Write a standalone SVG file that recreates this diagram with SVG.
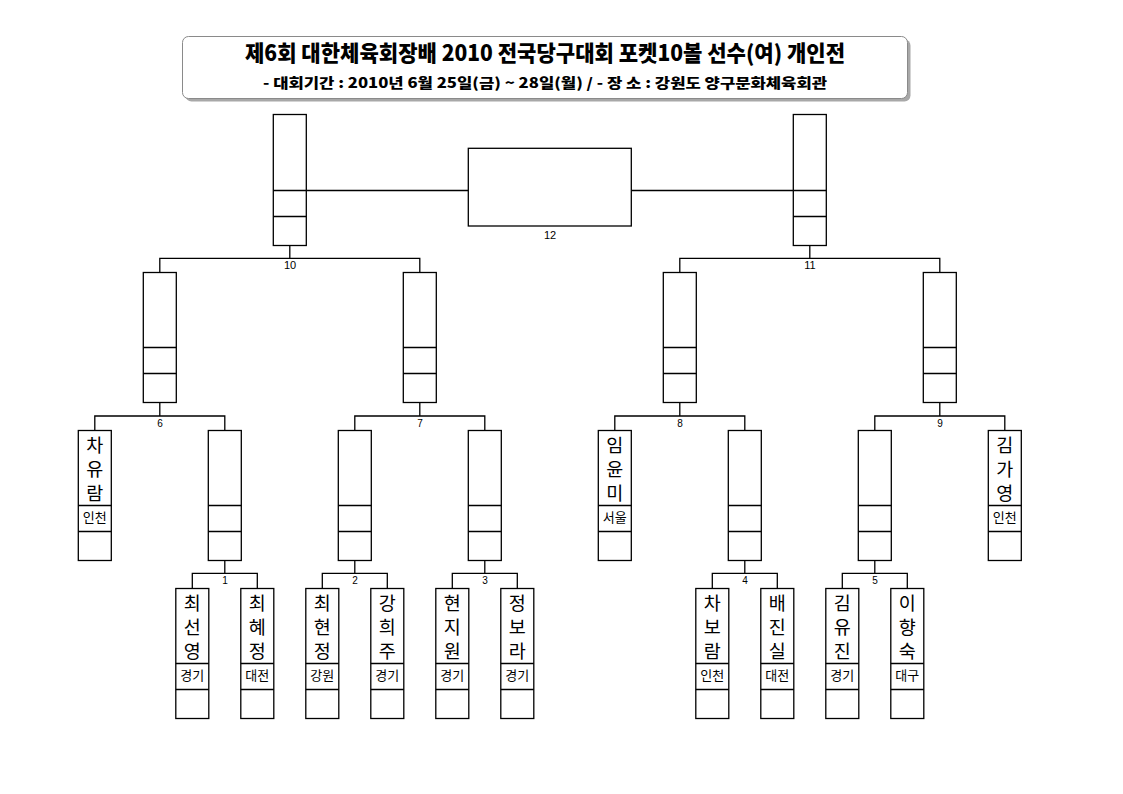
<svg xmlns="http://www.w3.org/2000/svg" xmlns:xlink="http://www.w3.org/1999/xlink" width="1123" height="794" viewBox="0 0 1123 794">
<style>
.bx{fill:#fff;stroke:#000;stroke-width:1.3}
.ln{fill:none;stroke:#000;stroke-width:1.3}
.nm{font-family:"Noto Sans CJK KR","Noto Sans",sans-serif;font-size:18.5px;text-anchor:middle;fill:#000}
.rg{font-family:"Noto Sans CJK KR","Noto Sans",sans-serif;font-size:13px;text-anchor:middle;fill:#000}
.num{font-family:"Liberation Sans",Arial,sans-serif;font-size:10px;text-anchor:middle;fill:#000}
.num2{font-family:"Liberation Sans",Arial,sans-serif;font-size:11px;text-anchor:middle;fill:#000}
.ttl{font-family:"Noto Sans CJK KR",sans-serif;font-weight:900;text-anchor:middle;fill:#000}
</style>
<defs>
<g id="slot">
<rect class="bx" x="0" y="0" width="33" height="130"/>
<line class="ln" x1="0" y1="75" x2="33" y2="75"/>
<line class="ln" x1="0" y1="101" x2="33" y2="101"/>
</g>
</defs>
<rect width="1123" height="794" fill="#fff"/>

<g id="title">
<rect x="185.5" y="39.5" width="725" height="62" rx="6" fill="#a8a8a8"/>
<rect x="182.5" y="36.5" width="725" height="62" rx="6" fill="#fff" stroke="#8a8a8a" stroke-width="1"/>
<text class="ttl" x="545" y="61" font-size="22" textLength="600" lengthAdjust="spacingAndGlyphs">제6회 대한체육회장배 2010 전국당구대회 포켓10볼 선수(여) 개인전</text>
<text class="ttl" x="545" y="88" font-size="14" textLength="564" lengthAdjust="spacingAndGlyphs">- 대회기간 : 2010년 6월 25일(금) ~ 28일(월) / - 장 소 : 강원도 양구문화체육회관</text>
</g>

<g id="connectors">
<line class="ln" x1="306.3" y1="190.5" x2="468.3" y2="190.5"/>
<line class="ln" x1="631.3" y1="190.5" x2="793.3" y2="190.5"/>
<path class="ln" d="M289.8,245.5V258.3M159.8,272.5V258.3H419.8V272.5"/>
<path class="ln" d="M809.8,245.5V258.3M679.8,272.5V258.3H939.8V272.5"/>
<path class="ln" d="M159.8,402.5V416M94.8,430.5V416H224.8V430.5"/>
<path class="ln" d="M419.8,402.5V416M354.8,430.5V416H484.8V430.5"/>
<path class="ln" d="M679.8,402.5V416M614.8,430.5V416H744.8V430.5"/>
<path class="ln" d="M939.8,402.5V416M874.8,430.5V416H1004.8V430.5"/>
<path class="ln" d="M224.8,560.5V573.3M192.3,588.5V573.3H257.3V588.5"/>
<path class="ln" d="M354.8,560.5V573.3M322.3,588.5V573.3H387.3V588.5"/>
<path class="ln" d="M484.8,560.5V573.3M452.3,588.5V573.3H517.3V588.5"/>
<path class="ln" d="M744.8,560.5V573.3M712.3,588.5V573.3H777.3V588.5"/>
<path class="ln" d="M874.8,560.5V573.3M842.3,588.5V573.3H907.3V588.5"/>
</g>

<g id="labels">
<text class="num2" x="550" y="239">12</text>
<text class="num2" x="290" y="269">10</text>
<text class="num2" x="810" y="269">11</text>
<text class="num" x="160" y="426.5">6</text>
<text class="num" x="420" y="426.5">7</text>
<text class="num" x="680" y="426.5">8</text>
<text class="num" x="940" y="426.5">9</text>
<text class="num" x="225" y="583.5">1</text>
<text class="num" x="355" y="583.5">2</text>
<text class="num" x="485" y="583.5">3</text>
<text class="num" x="745" y="583.5">4</text>
<text class="num" x="875" y="583.5">5</text>
</g>

<g id="final"><rect class="bx" x="468.3" y="148.3" width="163" height="77.7"/></g>

<g id="sf-left"><rect class="bx" x="273.3" y="114.5" width="33" height="131"/><line class="ln" x1="273.3" y1="190.5" x2="306.3" y2="190.5"/><line class="ln" x1="273.3" y1="216.5" x2="306.3" y2="216.5"/></g>
<g id="sf-right"><rect class="bx" x="793.3" y="114.5" width="33" height="131"/><line class="ln" x1="793.3" y1="190.5" x2="826.3" y2="190.5"/><line class="ln" x1="793.3" y1="216.5" x2="826.3" y2="216.5"/></g>

<g id="qf-1"><use xlink:href="#slot" x="143.3" y="272.5"/></g>
<g id="qf-2"><use xlink:href="#slot" x="403.3" y="272.5"/></g>
<g id="qf-3"><use xlink:href="#slot" x="663.3" y="272.5"/></g>
<g id="qf-4"><use xlink:href="#slot" x="923.3" y="272.5"/></g>

<g id="r2-chayuram"><use xlink:href="#slot" x="78.3" y="430.5"/>
<text class="nm"><tspan x="94.8" y="452.2">차</tspan><tspan x="94.8" y="476.2">유</tspan><tspan x="94.8" y="499.7">람</tspan></text><text class="rg" x="94.8" y="522">인천</text></g>
<g id="r2-w1"><use xlink:href="#slot" x="208.3" y="430.5"/></g>
<g id="r2-w2"><use xlink:href="#slot" x="338.3" y="430.5"/></g>
<g id="r2-w3"><use xlink:href="#slot" x="468.3" y="430.5"/></g>
<g id="r2-imyunmi"><use xlink:href="#slot" x="598.3" y="430.5"/>
<text class="nm"><tspan x="614.8" y="452.2">임</tspan><tspan x="614.8" y="476.2">윤</tspan><tspan x="614.8" y="499.7">미</tspan></text><text class="rg" x="614.8" y="522">서울</text></g>
<g id="r2-w4"><use xlink:href="#slot" x="728.3" y="430.5"/></g>
<g id="r2-w5"><use xlink:href="#slot" x="858.3" y="430.5"/></g>
<g id="r2-kimgayoung"><use xlink:href="#slot" x="988.3" y="430.5"/>
<text class="nm"><tspan x="1004.8" y="452.2">김</tspan><tspan x="1004.8" y="476.2">가</tspan><tspan x="1004.8" y="499.7">영</tspan></text><text class="rg" x="1004.8" y="522">인천</text></g>

<g id="p-choisunyoung"><use xlink:href="#slot" x="175.8" y="588.5"/>
<text class="nm"><tspan x="192.3" y="610.2">최</tspan><tspan x="192.3" y="634.2">선</tspan><tspan x="192.3" y="657.7">영</tspan></text><text class="rg" x="192.3" y="680">경기</text></g>
<g id="p-choihyejung"><use xlink:href="#slot" x="240.8" y="588.5"/>
<text class="nm"><tspan x="257.3" y="610.2">최</tspan><tspan x="257.3" y="634.2">혜</tspan><tspan x="257.3" y="657.7">정</tspan></text><text class="rg" x="257.3" y="680">대전</text></g>
<g id="p-choihyunjung"><use xlink:href="#slot" x="305.8" y="588.5"/>
<text class="nm"><tspan x="322.3" y="610.2">최</tspan><tspan x="322.3" y="634.2">현</tspan><tspan x="322.3" y="657.7">정</tspan></text><text class="rg" x="322.3" y="680">강원</text></g>
<g id="p-kanghuiju"><use xlink:href="#slot" x="370.8" y="588.5"/>
<text class="nm"><tspan x="387.3" y="610.2">강</tspan><tspan x="387.3" y="634.2">희</tspan><tspan x="387.3" y="657.7">주</tspan></text><text class="rg" x="387.3" y="680">경기</text></g>
<g id="p-hyunjiwon"><use xlink:href="#slot" x="435.8" y="588.5"/>
<text class="nm"><tspan x="452.3" y="610.2">현</tspan><tspan x="452.3" y="634.2">지</tspan><tspan x="452.3" y="657.7">원</tspan></text><text class="rg" x="452.3" y="680">경기</text></g>
<g id="p-jungbora"><use xlink:href="#slot" x="500.8" y="588.5"/>
<text class="nm"><tspan x="517.3" y="610.2">정</tspan><tspan x="517.3" y="634.2">보</tspan><tspan x="517.3" y="657.7">라</tspan></text><text class="rg" x="517.3" y="680">경기</text></g>
<g id="p-chaboram"><use xlink:href="#slot" x="695.8" y="588.5"/>
<text class="nm"><tspan x="712.3" y="610.2">차</tspan><tspan x="712.3" y="634.2">보</tspan><tspan x="712.3" y="657.7">람</tspan></text><text class="rg" x="712.3" y="680">인천</text></g>
<g id="p-baejinsil"><use xlink:href="#slot" x="760.8" y="588.5"/>
<text class="nm"><tspan x="777.3" y="610.2">배</tspan><tspan x="777.3" y="634.2">진</tspan><tspan x="777.3" y="657.7">실</tspan></text><text class="rg" x="777.3" y="680">대전</text></g>
<g id="p-kimyujin"><use xlink:href="#slot" x="825.8" y="588.5"/>
<text class="nm"><tspan x="842.3" y="610.2">김</tspan><tspan x="842.3" y="634.2">유</tspan><tspan x="842.3" y="657.7">진</tspan></text><text class="rg" x="842.3" y="680">경기</text></g>
<g id="p-leehyangsook"><use xlink:href="#slot" x="890.8" y="588.5"/>
<text class="nm"><tspan x="907.3" y="610.2">이</tspan><tspan x="907.3" y="634.2">향</tspan><tspan x="907.3" y="657.7">숙</tspan></text><text class="rg" x="907.3" y="680">대구</text></g>
</svg>
